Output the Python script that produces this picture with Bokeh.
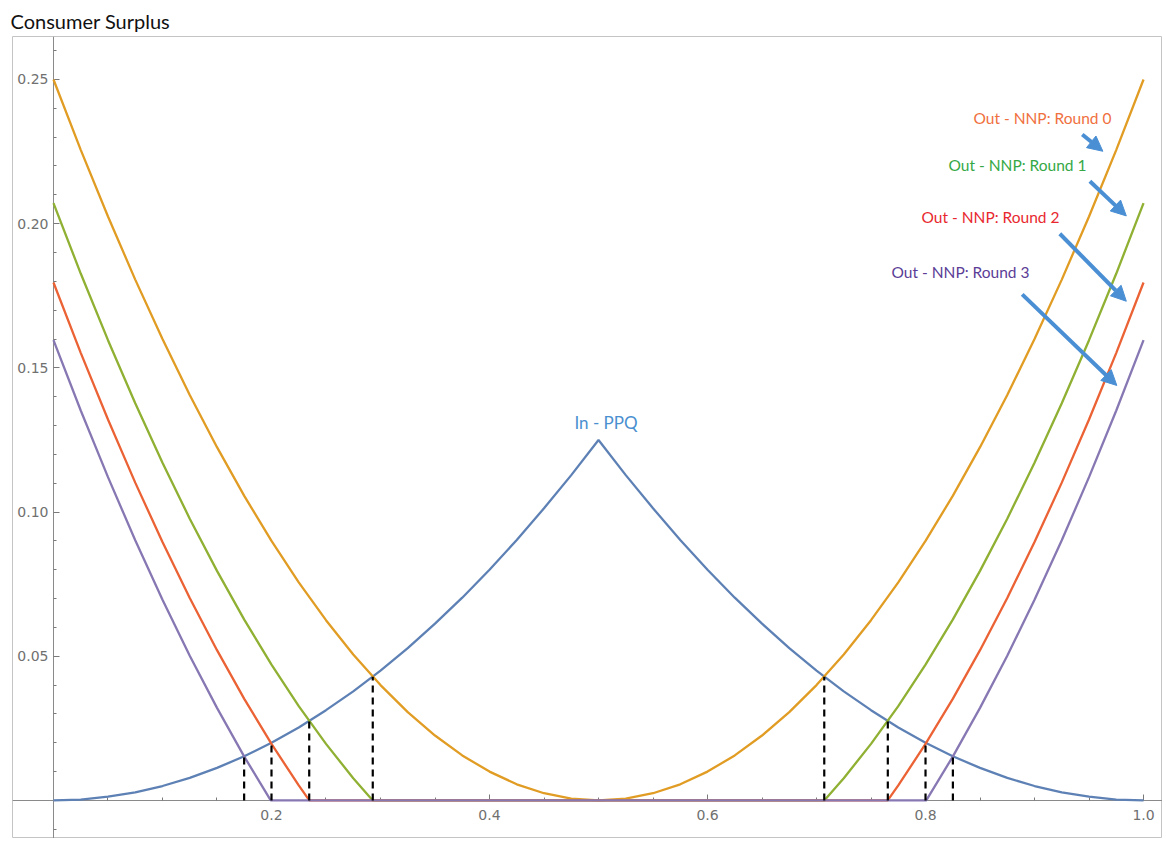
from bokeh.plotting import figure
from bokeh.models import (LinearAxis, FixedTicker, Label, Arrow, NormalHead,
                          Range1d, NumeralTickFormatter, ColumnDataSource)
from bokeh.embed import file_html
from bokeh.resources import INLINE

# ---------------- data ----------------
x_grid = [0, 0.025, 0.05, 0.075, 0.1, 0.125, 0.15, 0.175, 0.2, 0.225, 0.25,
          0.275, 0.3, 0.325, 0.35, 0.375, 0.4, 0.425, 0.45, 0.475, 0.5,
          0.525, 0.55, 0.575, 0.6, 0.625, 0.65, 0.675, 0.7, 0.725, 0.75,
          0.775, 0.8, 0.825, 0.85, 0.875, 0.9, 0.925, 0.95, 0.975, 1.0]

in_ppq = [0, 0.0003, 0.0013, 0.0028, 0.005, 0.0078, 0.0113, 0.0153, 0.02, 0.0253,
          0.0313, 0.0378, 0.045, 0.0528, 0.0613, 0.0703, 0.08, 0.0903, 0.1013,
          0.1128, 0.125, 0.1128, 0.1013, 0.0903, 0.08, 0.0703, 0.0613, 0.0528,
          0.045, 0.0378, 0.0313, 0.0253, 0.02, 0.0153, 0.0113, 0.0078, 0.005,
          0.0028, 0.0013, 0.0003, 0]

round0 = [0.25, 0.2256, 0.2025, 0.1806, 0.16, 0.1406, 0.1225, 0.1056, 0.09, 0.0756,
          0.0625, 0.0506, 0.04, 0.0306, 0.0225, 0.0156, 0.01, 0.0056, 0.0025,
          0.0006, 0, 0.0006, 0.0025, 0.0056, 0.01, 0.0156, 0.0225, 0.0306, 0.04,
          0.0506, 0.0625, 0.0756, 0.09, 0.1056, 0.1225, 0.1406, 0.16, 0.1806,
          0.2025, 0.2256, 0.25]

round1_x = [0, 0.025, 0.05, 0.075, 0.1, 0.125, 0.15, 0.175, 0.2, 0.225, 0.25, 0.275,
            0.2929, 0.7071,
            0.725, 0.75, 0.775, 0.8, 0.825, 0.85, 0.875, 0.9, 0.925, 0.95, 0.975, 1.0]
round1 = [0.2071, 0.1827, 0.1596, 0.1377, 0.1171, 0.0977, 0.0796, 0.0627, 0.0471,
          0.0327, 0.0196, 0.0077, 0, 0,
          0.0077, 0.0196, 0.0327, 0.0471, 0.0627, 0.0796, 0.0977, 0.1171, 0.1377,
          0.1596, 0.1827, 0.2071]

round2_x = [0, 0.025, 0.05, 0.075, 0.1, 0.125, 0.15, 0.175, 0.2, 0.225,
            0.2347, 0.7653,
            0.775, 0.8, 0.825, 0.85, 0.875, 0.9, 0.925, 0.95, 0.975, 1.0]
round2 = [0.1796, 0.1552, 0.1321, 0.1102, 0.0896, 0.0702, 0.0521, 0.0352, 0.0196,
          0.0052, 0, 0,
          0.0052, 0.0196, 0.0352, 0.0521, 0.0702, 0.0896, 0.1102, 0.1321, 0.1552,
          0.1796]

round3_x = [0, 0.025, 0.05, 0.075, 0.1, 0.125, 0.15, 0.175,
            0.1993, 0.8007,
            0.825, 0.85, 0.875, 0.9, 0.925, 0.95, 0.975, 1.0]
round3 = [0.1596, 0.1352, 0.1121, 0.0902, 0.0696, 0.0502, 0.0321, 0.0152, 0, 0,
          0.0152, 0.0321, 0.0502, 0.0696, 0.0902, 0.1121, 0.1352, 0.1596]

# dashed drop lines at the crossings with In - PPQ
cross_x = [0.1749, 0.2, 0.2346, 0.2929, 0.7071, 0.7654, 0.8, 0.8251]
cross_y = [0.0153, 0.02, 0.0275, 0.0429, 0.0429, 0.0275, 0.02, 0.0153]

x_ticks = [0.2, 0.4, 0.6, 0.8, 1.0]
x_minor = [0.05, 0.1, 0.15, 0.25, 0.3, 0.35, 0.45, 0.5, 0.55, 0.65, 0.7, 0.75,
           0.85, 0.9, 0.95]
y_ticks = [0.05, 0.10, 0.15, 0.20, 0.25]
y_minor = [-0.01, 0.01, 0.02, 0.03, 0.04, 0.06, 0.07, 0.08, 0.09, 0.11, 0.12, 0.13,
           0.14, 0.16, 0.17, 0.18, 0.19, 0.21, 0.22, 0.23, 0.24, 0.26]

out_labels = ["Out - NNP: Round 0", "Out - NNP: Round 1",
              "Out - NNP: Round 2", "Out - NNP: Round 3"]

# ---------------- styles / annotation positions ----------------
C_BLUE = "#5E81B5"
C_ORANGE = "#E19C24"
C_GREEN = "#8FB032"
C_RED = "#EB6235"
C_PURPLE = "#8778B3"
label_colors = ["#F0703E", "#35A845", "#E8282E", "#5B3D96"]
label_pos = [(0.9073, 0.2365), (0.8844, 0.2202), (0.8596, 0.2023), (0.8321, 0.1832)]
arrow_pos = [(0.9438, 0.2309, 0.9627, 0.2251),
             (0.9508, 0.2147, 0.9842, 0.2027),
             (0.9232, 0.1965, 0.9842, 0.1731),
             (0.8887, 0.1755, 0.9755, 0.1439)]
ARROW_COLOR = "#4A8FD4"

p = figure(width=1162, height=838, output_backend="svg", toolbar_location=None,
           x_range=Range1d(-0.0376, 1.0174), y_range=Range1d(-0.0132, 0.2649),
           x_axis_type=None, y_axis_type=None,
           min_border_left=12, min_border_right=0, min_border_top=36,
           min_border_bottom=0)
p.outline_line_color = "#C4C4C4"
p.outline_line_width = 1
p.background_fill_color = "white"
p.border_fill_color = "white"

p.title.text = "Consumer Surplus"
p.title.text_font = "Lato"
p.title.text_font_size = "20px"
p.title.text_font_style = "normal"
p.title.text_color = "#111111"
p.title.align = "left"
p.title.offset = -2
p.title.standoff = 7

axis_style = dict(axis_line_color="#8A8A8A", axis_line_width=1,
                  major_tick_in=6, major_tick_out=0, minor_tick_in=3, minor_tick_out=0,
                  major_tick_line_color="#7A7A7A", minor_tick_line_color="#7A7A7A",
                  major_label_text_font="DejaVu Sans",
                  major_label_text_font_size="14px",
                  major_label_text_color="#707070")

xaxis = LinearAxis(fixed_location=0,
                   ticker=FixedTicker(ticks=x_ticks, minor_ticks=x_minor),
                   formatter=NumeralTickFormatter(format="0.0"),
                   major_label_standoff=10, level="underlay", **axis_style)
yaxis = LinearAxis(fixed_location=0,
                   ticker=FixedTicker(ticks=y_ticks, minor_ticks=y_minor),
                   formatter=NumeralTickFormatter(format="0.00"),
                   major_label_standoff=5, level="underlay", **axis_style)
p.add_layout(xaxis, "below")
p.add_layout(yaxis, "left")

LW = 2.3
p.line(x_grid, in_ppq, line_color=C_BLUE, line_width=LW)
p.line(x_grid, round0, line_color=C_ORANGE, line_width=LW)
p.line(round1_x, round1, line_color=C_GREEN, line_width=LW)
p.line(round2_x, round2, line_color=C_RED, line_width=LW)
p.line(round3_x, round3, line_color=C_PURPLE, line_width=LW)

src = ColumnDataSource(dict(x=cross_x, y0=[0] * len(cross_x), y1=cross_y))
p.segment(x0="x", y0="y0", x1="x", y1="y1", source=src,
          line_color="black", line_width=2.2, line_dash="7 5")

p.add_layout(Label(x=0.5069, y=0.1311, text="In - PPQ", text_align="center",
                   text_baseline="middle", text_font="Lato",
                   text_font_size="17px", text_color="#4A8FD0"))

for (lx, ly), txt, col in zip(label_pos, out_labels, label_colors):
    p.add_layout(Label(x=lx, y=ly, text=txt, text_align="center",
                       text_baseline="middle", text_font="Lato",
                       text_font_size="15.5px", text_color=col))

for (x0, y0, x1, y1) in arrow_pos:
    p.add_layout(Arrow(x_start=x0, y_start=y0, x_end=x1, y_end=y1,
                       line_color=ARROW_COLOR, line_width=4,
                       end=NormalHead(size=15, fill_color=ARROW_COLOR,
                                      line_color=ARROW_COLOR, line_width=1)))

open("out.html", "w").write(file_html(p, INLINE))
